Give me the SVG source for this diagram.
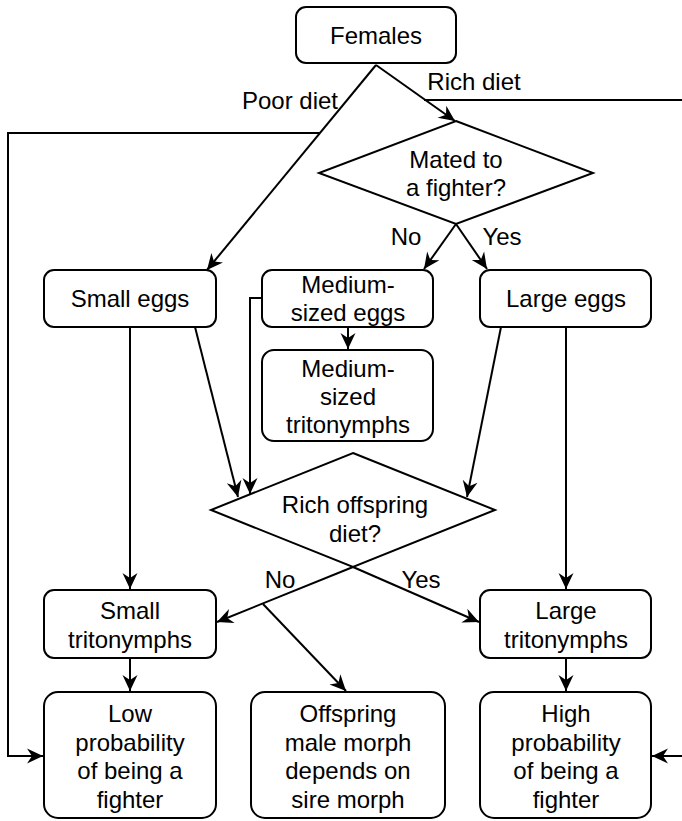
<svg xmlns="http://www.w3.org/2000/svg" width="682" height="821" viewBox="0 0 682 821">
<style>
.box{fill:#fff;stroke:#000;stroke-width:2}
.t{font-family:"Liberation Sans",Arial,sans-serif;font-size:24px;fill:#000;text-anchor:middle}
.c{fill:none;stroke:#000;stroke-width:2}
</style>
<defs>
<marker id="ah" markerUnits="userSpaceOnUse" viewBox="-17 -9 18 18" refX="0" refY="0" markerWidth="18" markerHeight="18" orient="auto">
<path d="M0,0 L-16,-7.5 L-11,0 L-16,7.5 Z" fill="#000"/>
</marker>
</defs>
<rect width="682" height="821" fill="#fff"/>
<g id="connectors">
<path class="c" d="M376,65 L207,270" marker-end="url(#ah)"/>
<path class="c" d="M376,65 L455,121" marker-end="url(#ah)"/>
<path class="c" d="M320,133 L8,133 L8,756 L43,756" marker-end="url(#ah)"/>
<path class="c" d="M424,100 L690,100 L690,756 L652,756" marker-end="url(#ah)"/>
<path class="c" d="M456,224 L424,269" marker-end="url(#ah)"/>
<path class="c" d="M456,224 L487,269" marker-end="url(#ah)"/>
<path class="c" d="M348,327 L348,349" marker-end="url(#ah)"/>
<path class="c" d="M195,327 L238,497" marker-end="url(#ah)"/>
<path class="c" d="M262,298 L250,298 L250,494" marker-end="url(#ah)"/>
<path class="c" d="M501,327 L467,497" marker-end="url(#ah)"/>
<path class="c" d="M130,327 L130,589" marker-end="url(#ah)"/>
<path class="c" d="M566,327 L566,589" marker-end="url(#ah)"/>
<path class="c" d="M353,567 L217,622" marker-end="url(#ah)"/>
<path class="c" d="M353,567 L479,622" marker-end="url(#ah)"/>
<path class="c" d="M263,604 L346,691" marker-end="url(#ah)"/>
<path class="c" d="M130,658 L130,691" marker-end="url(#ah)"/>
<path class="c" d="M566,658 L566,691" marker-end="url(#ah)"/>
</g>
<g id="labels">
<text class="t" x="290" y="109">Poor diet</text>
<text class="t" x="474" y="90">Rich diet</text>
<text class="t" x="406" y="245">No</text>
<text class="t" x="502" y="245">Yes</text>
<text class="t" x="280" y="588">No</text>
<text class="t" x="421" y="588">Yes</text>
</g>
<g id="females">
<rect class="box" x="296" y="7" width="160" height="56" rx="10"/>
<text class="t" x="376" y="44">Females</text>
</g>
<g id="mated">
<polygon class="box" points="456,121 593,173 456,224 319,173"/>
<text class="t" x="456" y="168">Mated to</text>
<text class="t" x="456" y="196">a fighter?</text>
</g>
<g id="small-eggs">
<rect class="box" x="44" y="270" width="172" height="57" rx="10"/>
<text class="t" x="130" y="307">Small eggs</text>
</g>
<g id="medium-eggs">
<rect class="box" x="262" y="270" width="171" height="57" rx="10"/>
<text class="t" x="348" y="293">Medium-</text>
<text class="t" x="348" y="321">sized eggs</text>
</g>
<g id="large-eggs">
<rect class="box" x="480" y="270" width="171" height="57" rx="10"/>
<text class="t" x="566" y="307">Large eggs</text>
</g>
<g id="medium-tritonymphs">
<rect class="box" x="262" y="350" width="171" height="91" rx="12"/>
<text class="t" x="348" y="377">Medium-</text>
<text class="t" x="348" y="405">sized</text>
<text class="t" x="348" y="433">tritonymphs</text>
</g>
<g id="rich-offspring">
<polygon class="box" points="353,453 495,510 353,567 211,510"/>
<text class="t" x="355" y="513">Rich offspring</text>
<text class="t" x="355" y="542">diet?</text>
</g>
<g id="small-tritonymphs">
<rect class="box" x="44" y="590" width="172" height="68" rx="10"/>
<text class="t" x="130" y="619">Small</text>
<text class="t" x="130" y="648">tritonymphs</text>
</g>
<g id="large-tritonymphs">
<rect class="box" x="480" y="590" width="171" height="68" rx="10"/>
<text class="t" x="566" y="619">Large</text>
<text class="t" x="566" y="648">tritonymphs</text>
</g>
<g id="low-probability">
<rect class="box" x="44" y="692" width="172" height="126" rx="14"/>
<text class="t" x="130" y="722">Low</text>
<text class="t" x="130" y="750.5">probability</text>
<text class="t" x="130" y="779">of being a</text>
<text class="t" x="130" y="807.5">fighter</text>
</g>
<g id="offspring-morph">
<rect class="box" x="251" y="692" width="194" height="126" rx="14"/>
<text class="t" x="348" y="722">Offspring</text>
<text class="t" x="348" y="750.5">male morph</text>
<text class="t" x="348" y="779">depends on</text>
<text class="t" x="348" y="807.5">sire morph</text>
</g>
<g id="high-probability">
<rect class="box" x="480" y="692" width="171" height="126" rx="14"/>
<text class="t" x="566" y="722">High</text>
<text class="t" x="566" y="750.5">probability</text>
<text class="t" x="566" y="779">of being a</text>
<text class="t" x="566" y="807.5">fighter</text>
</g>
</svg>
